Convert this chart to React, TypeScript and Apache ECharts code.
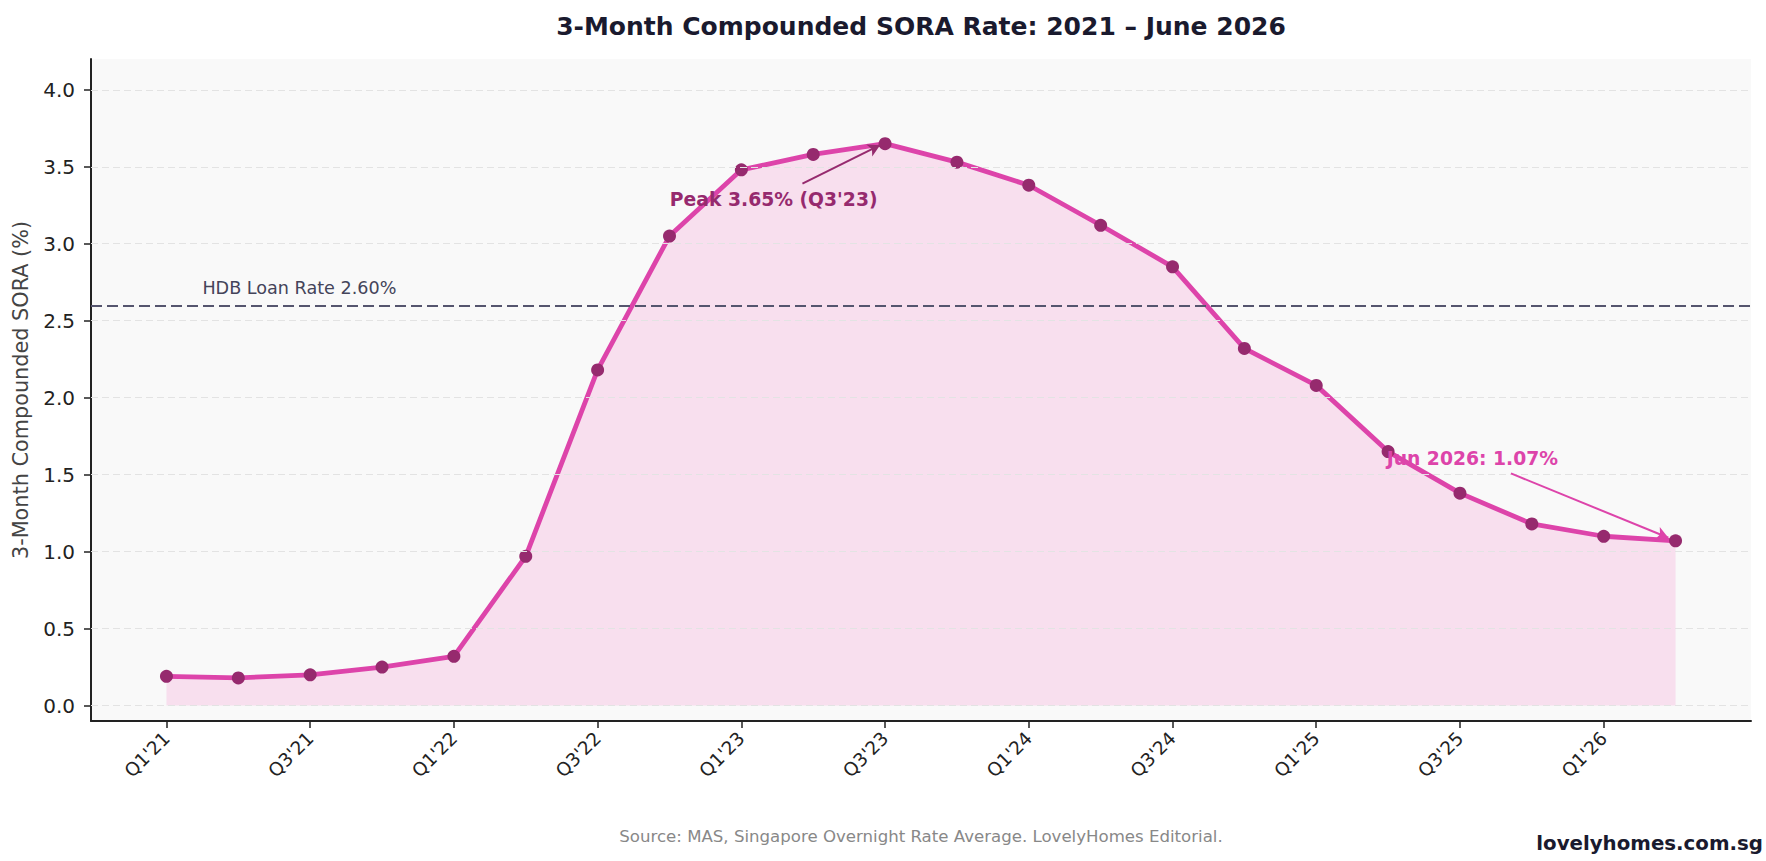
import React, { useEffect, useRef } from "react";
import * as echarts from "echarts";

const quarters = [
  "Q1'21", "Q2'21", "Q3'21", "Q4'21",
  "Q1'22", "Q2'22", "Q3'22", "Q4'22",
  "Q1'23", "Q2'23", "Q3'23", "Q4'23",
  "Q1'24", "Q2'24", "Q3'24", "Q4'24",
  "Q1'25", "Q2'25", "Q3'25", "Q4'25",
  "Q1'26", "Q2'26",
];
const sora = [
  0.19, 0.18, 0.20, 0.25,
  0.32, 0.97, 2.18, 3.05,
  3.48, 3.58, 3.65, 3.53,
  3.38, 3.12, 2.85, 2.32,
  2.08, 1.65, 1.38, 1.18,
  1.10, 1.07,
];
const yTicks = [0, 0.5, 1.0, 1.5, 2.0, 2.5, 3.0, 3.5, 4.0];
const xTickIdx = [0, 2, 4, 6, 8, 10, 12, 14, 16, 18, 20];
const hdbRate = 2.6;
const hdbLabel = "HDB Loan Rate 2.60%";
const peakLabel = "Peak 3.65% (Q3'23)";
const lastLabel = "Jun 2026: 1.07%";
const titleText = "3-Month Compounded SORA Rate: 2021 \u2013 June 2026";
const yName = "3-Month Compounded SORA (%)";
const sourceText = "Source: MAS, Singapore Overnight Rate Average. LovelyHomes Editorial.";
const brandText = "lovelyhomes.com.sg";

const FONT = "DejaVu Sans";
const LINE = "#dd44aa";
const MARK = "#962a6e";

export default function App() {
  const ref = useRef<HTMLDivElement>(null);
  useEffect(() => {
    document.body.style.margin = "0";
    document.body.style.overflow = "hidden";
    const chart = echarts.init(ref.current!, null, { renderer: "svg" });
    const points = sora.map((v, i) => [i, v]);
    const peakIdx = sora.indexOf(Math.max(...sora));
    const lastIdx = sora.length - 1;
    chart.setOption({
      animation: false,
      textStyle: { fontFamily: FONT },
      grid: {
        left: 91, right: 15, top: 59, bottom: 140,
        show: true, backgroundColor: "#f9f9f9", borderWidth: 0,
      },
      xAxis: {
        type: "value", min: -1.05, max: 22.05,
        axisLine: { show: true, onZero: false, lineStyle: { color: "#222", width: 2 } },
        axisTick: { show: true, customValues: xTickIdx, length: 7, lineStyle: { color: "#222", width: 1.5 } },
        axisLabel: {
          customValues: xTickIdx, rotate: 45, margin: 14,
          formatter: (v: number) => quarters[Math.round(v)] ?? "",
          fontSize: 18.5, color: "#222", fontFamily: FONT,
        },
        splitLine: { show: false },
      },
      yAxis: {
        type: "value", min: -0.1, max: 4.2,
        name: yName, nameLocation: "middle", nameRotate: 90, nameGap: 60,
        nameTextStyle: { fontSize: 20.8, color: "#444", fontFamily: FONT },
        axisLine: { show: true, onZero: false, lineStyle: { color: "#222", width: 2 } },
        axisTick: { show: true, customValues: yTicks, length: 7, lineStyle: { color: "#222", width: 1.5 } },
        axisLabel: {
          customValues: yTicks, margin: 16,
          formatter: (v: number) => v.toFixed(1),
          fontSize: 20, color: "#222", fontFamily: FONT,
        },
        splitLine: { show: false },
      },
      series: [
        {
          type: "line", data: [], z: 1, silent: true,
          markLine: {
            silent: true, symbol: ["none", "none"], label: { show: false },
            lineStyle: { color: "#e3e3e3", type: [7, 4], width: 1 },
            data: yTicks.map((v) => ({ yAxis: v })),
          },
        },
        {
          type: "line", data: points, z: 3,
          symbol: "circle", symbolSize: 13, showSymbol: true,
          itemStyle: { color: MARK },
          lineStyle: { color: LINE, width: 4.8 },
          areaStyle: { color: "rgba(240,72,172,0.15)", opacity: 1, origin: 0 },
          markLine: {
            silent: true, symbol: ["none", "none"], label: { show: false },
            lineStyle: { color: "#55556e", type: [11, 5], width: 2.2 },
            data: [{ yAxis: hdbRate }],
          },
        },
        {
          type: "line", data: [], z: 4, silent: true,
          markLine: {
            silent: true, symbol: ["none", "arrow"], symbolSize: [10, 12], label: { show: false },
            data: [
              [
                { coord: [8.85, 3.39], lineStyle: { color: MARK, width: 2, type: "solid" } },
                { coord: [peakIdx - 0.07, sora[peakIdx] - 0.01] },
              ],
              [
                { coord: [18.71, 1.508], lineStyle: { color: LINE, width: 2, type: "solid" } },
                { coord: [lastIdx - 0.1, sora[lastIdx] + 0.02] },
              ],
            ],
          },
        },
      ],
    });

    const px = (x: number, y: number) => chart.convertToPixel({ gridIndex: 0 }, [x, y]) as number[];
    const mid = (baseline: number, fs: number) => baseline - 0.346 * fs;
    const hdbP = px(0.5, 2.675);
    const peakP = px(8.45, 3.245);
    const lastP = px(16.98, 1.566);
    const text = (x: number, baseline: number, t: string, fs: number, fill: string, align: string, weight = "normal") => ({
      type: "text", x, y: mid(baseline, fs), silent: true, z: 100,
      style: { text: t, fontSize: fs, fontFamily: FONT, fontWeight: weight, fill, align, verticalAlign: "middle" },
    });
    chart.setOption({
      graphic: [
        text(921, 35, titleText, 25, "#1a1a2e", "center", "bold"),
        text(hdbP[0], hdbP[1], hdbLabel, 17.6, "#44445a", "left"),
        text(peakP[0], peakP[1], peakLabel, 18.75, MARK, "center", "bold"),
        text(lastP[0], lastP[1], lastLabel, 18.75, LINE, "left", "bold"),
        text(921, 842, sourceText, 16.6, "#888888", "center"),
        text(1763, 850, brandText, 19.8, "#1a1a2e", "right", "bold"),
      ],
    });
    return () => chart.dispose();
  }, []);
  return <div ref={ref} style={{ position: "absolute", left: 0, top: 0, width: 1766, height: 861 }} />;
}
